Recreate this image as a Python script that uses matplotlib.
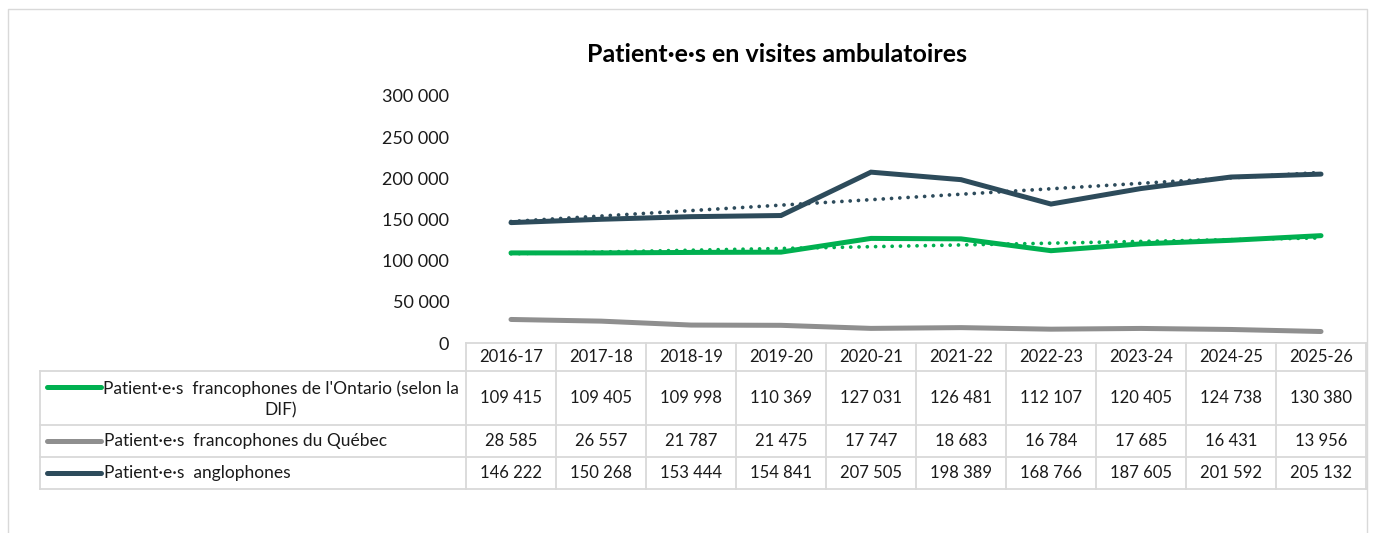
#!/usr/bin/env python3
"""Patient·e·s en visites ambulatoires: line chart with an Excel-style data table."""

import matplotlib
matplotlib.use("Agg")
import matplotlib.pyplot as plt
import numpy as np

YEARS = ["2016-17", "2017-18", "2018-19", "2019-20", "2020-21",
         "2021-22", "2022-23", "2023-24", "2024-25", "2025-26"]
ONTARIO = [109415, 109405, 109998, 110369, 127031, 126481, 112107, 120405, 124738, 130380]
QUEBEC = [28585, 26557, 21787, 21475, 17747, 18683, 16784, 17685, 16431, 13956]
ANGLO = [146222, 150268, 153444, 154841, 207505, 198389, 168766, 187605, 201592, 205132]

SERIES_LABELS = [
    "Patient·e·s  francophones de l'Ontario (selon la\nDIF)",
    "Patient·e·s  francophones du Québec",
    "Patient·e·s  anglophones",
]
COLORS = ["#00B050", "#8F8F8F", "#2D4B5B"]
TREND = [True, False, True]
TITLE = "Patient·e·s en visites ambulatoires"
Y_TICKS = [0, 50000, 100000, 150000, 200000, 250000, 300000]

plt.rcParams["font.family"] = ["Lato", "DejaVu Sans"]

W, H = 1375, 533
GRID = "#D9D9D9"
TEXT = "#1A1A1A"


def fmt(v):
    return f"{v:,}".replace(",", " ")


fig = plt.figure(figsize=(W / 100, H / 100), dpi=100)

# layout in pixels
X0, COL_W = 466, 90
Y_ZERO, Y_TOP = 343, 96
ROWS = [343, 371, 425, 457, 489]
LEG_LEFT = 40

ax = fig.add_axes([X0 / W, 1 - Y_ZERO / H, COL_W * len(YEARS) / W, (Y_ZERO - Y_TOP) / H])
x = np.arange(len(YEARS))
series = [ONTARIO, QUEBEC, ANGLO]
for values, color, trend in zip(series, COLORS, TREND):
    ax.plot(x, values, color=color, lw=3.6, solid_capstyle="round", solid_joinstyle="miter", zorder=3)
for values, color, trend in zip(series, COLORS, TREND):
    if trend:
        slope, intercept = np.polyfit(x, values, 1)
        ax.plot(x, slope * x + intercept, color=color, lw=2.7,
                linestyle=(0, (0.01, 2.2)), dash_capstyle="round", zorder=4)

ax.set_xlim(-0.5, len(YEARS) - 0.5)
ax.set_ylim(0, 300000)
ax.set_yticks(Y_TICKS)
ax.set_yticklabels([fmt(v) for v in Y_TICKS], fontsize=13, color=TEXT)
ax.set_xticks([])
ax.tick_params(axis="y", length=0, pad=12)
for side in ax.spines.values():
    side.set_visible(False)
ax.patch.set_alpha(0)

# overlay for the frame and the data table
ov = fig.add_axes([0, 0, 1, 1], zorder=-1)
ov.set_xlim(0, W)
ov.set_ylim(H, 0)
ov.axis("off")
ov.plot([8, 8, 1367, 1367], [H + 5, 9, 9, H + 5], color=GRID, lw=1)

fig.text(777 / W, 1 - 55 / H, TITLE, ha="center", va="center",
         fontsize=18, fontweight="bold", color="#000000")

right = X0 + COL_W * len(YEARS)
lw = 1.3
ov.plot([X0, right], [ROWS[0], ROWS[0]], color=GRID, lw=lw)
for yb in ROWS[1:]:
    ov.plot([LEG_LEFT, right], [yb, yb], color=GRID, lw=lw)
for k in range(len(YEARS) + 1):
    xb = X0 + COL_W * k
    ov.plot([xb, xb], [ROWS[0], ROWS[-1]], color=GRID, lw=lw)
ov.plot([LEG_LEFT, LEG_LEFT], [ROWS[1], ROWS[-1]], color=GRID, lw=lw)

for k, year in enumerate(YEARS):
    cx = X0 + COL_W * (k + 0.5)
    ov.text(cx, (ROWS[0] + ROWS[1]) / 2, year, ha="center", va="center", fontsize=12, color=TEXT)

for r, (values, label, color) in enumerate(zip(series, SERIES_LABELS, COLORS)):
    cy = (ROWS[r + 1] + ROWS[r + 2]) / 2
    key_y = cy if "\n" not in label else ROWS[r + 1] + 16
    ov.plot([47, 101], [key_y, key_y], color=color, lw=3.6, solid_capstyle="round")
    if "\n" in label:
        ov.text(281, cy + 1, label, ha="center", va="center", fontsize=12.5,
                color=TEXT, multialignment="center", linespacing=1.4)
    else:
        ov.text(104, cy, label, ha="left", va="center", fontsize=12.5, color=TEXT)
    for k, v in enumerate(values):
        cx = X0 + COL_W * (k + 0.5)
        ov.text(cx, cy, fmt(v), ha="center", va="center", fontsize=12, color=TEXT)

fig.savefig("out.png", dpi=100, facecolor="white")
